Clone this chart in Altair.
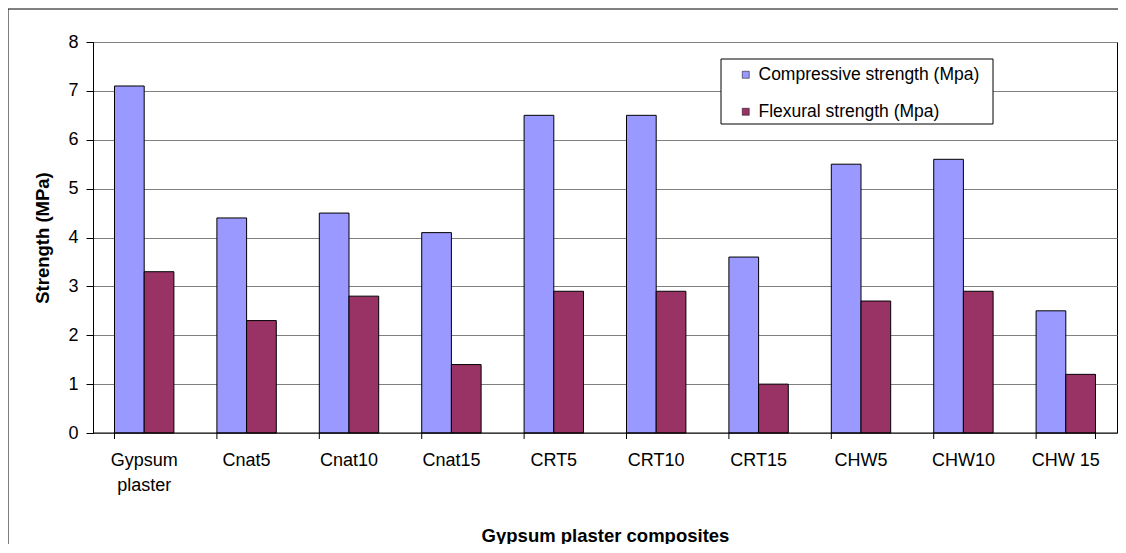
import altair as alt
import pandas as pd

categories = ["Gypsum plaster", "Cnat5", "Cnat10", "Cnat15", "CRT5", "CRT10",
              "CRT15", "CHW5", "CHW10", "CHW 15"]
compressive = [7.1, 4.4, 4.5, 4.1, 6.5, 6.5, 3.6, 5.5, 5.6, 2.5]
flexural = [3.3, 2.3, 2.8, 1.4, 2.9, 2.9, 1.0, 2.7, 2.9, 1.2]
series = ["Compressive strength (Mpa)", "Flexural strength (Mpa)"]
colors = ["#9999FF", "#993366"]

rows = []
for c, a, b in zip(categories, compressive, flexural):
    rows.append({"cat": c, "series": series[0], "value": a})
    rows.append({"cat": c, "series": series[1], "value": b})
df = pd.DataFrame(rows)
cat_df = pd.DataFrame({"cat": categories})

W, H = 1024, 391
FONT = "Liberation Sans"

xscale = alt.Scale(domain=categories, paddingInner=0.42, paddingOuter=0.21)
x_axis = alt.Axis(title="Gypsum plaster composites", labelAngle=0,
                  ticks=False, domain=False, labelPadding=18, labelLineHeight=25,
                  labelExpr="datum.label == 'Gypsum plaster' ? ['Gypsum', 'plaster'] : datum.label",
                  titlePadding=32)

bars = alt.Chart(df).mark_bar(stroke="black", strokeWidth=1).encode(
    x=alt.X("cat:N", scale=xscale, sort=categories, axis=x_axis),
    xOffset=alt.XOffset("series:N", sort=series),
    y=alt.Y("value:Q", scale=alt.Scale(domain=[0, 8]),
            axis=alt.Axis(title="Strength (MPa)", values=list(range(9)),
                          grid=True, gridColor="#808080",
                          domainColor="black", tickColor="black", tickSize=7,
                          labelPadding=8, titlePadding=15)),
    color=alt.Color("series:N", sort=series,
                    scale=alt.Scale(domain=series, range=colors),
                    legend=alt.Legend(title=None, orient="none", legendX=644, legendY=24,
                                      symbolType="square", symbolSize=49,
                                      symbolStrokeColor="black", symbolStrokeWidth=0.5,
                                      padding=0, rowPadding=18, labelFontSize=17.5,
                                      labelFont=FONT, labelLimit=400, labelColor="black",
                                      labelOffset=4, offset=0)),
)

legend_box = alt.Chart(cat_df.head(1)).mark_rect(fill="white", stroke="black", strokeWidth=1).encode(
    x=alt.value(628), x2=alt.value(900), y=alt.value(17), y2=alt.value(82),
)
ticks_left = alt.Chart(cat_df).mark_rule(color="black").encode(
    x=alt.X("cat:N", scale=xscale, sort=categories, bandPosition=0, axis=x_axis),
    y=alt.value(H), y2=alt.value(H + 6),
)
tick_right = alt.Chart(pd.DataFrame({"cat": [categories[-1]]})).mark_rule(color="black").encode(
    x=alt.X("cat:N", scale=xscale, sort=categories, bandPosition=1, axis=x_axis),
    y=alt.value(H), y2=alt.value(H + 6),
)
xline = alt.Chart(cat_df.head(1)).mark_rule(color="black").encode(
    x=alt.value(0), x2=alt.value(W), y=alt.value(H),
)
border_left = alt.Chart(cat_df.head(1)).mark_rule(color="black").encode(
    x=alt.value(-85), y=alt.value(-33), y2=alt.value(H + 200),
)
border_top = alt.Chart(cat_df.head(1)).mark_rule(color="black").encode(
    x=alt.value(-85), x2=alt.value(W + 40), y=alt.value(-33),
)

chart = alt.layer(border_left, border_top, bars, legend_box, xline, ticks_left, tick_right).properties(
    width=W, height=H,
    background="white",
    autosize=alt.AutoSizeParams(type="none"),
    padding={"left": 85, "top": 34, "right": 1, "bottom": 111},
).configure_view(stroke="black", strokeWidth=1).configure_axis(
    labelFont=FONT, titleFont=FONT, labelFontSize=18, titleFontSize=18.5,
    labelColor="black", titleColor="black", titleFontWeight="bold",
)

chart.save("out.html", embed_options={"renderer": "svg", "actions": False})
